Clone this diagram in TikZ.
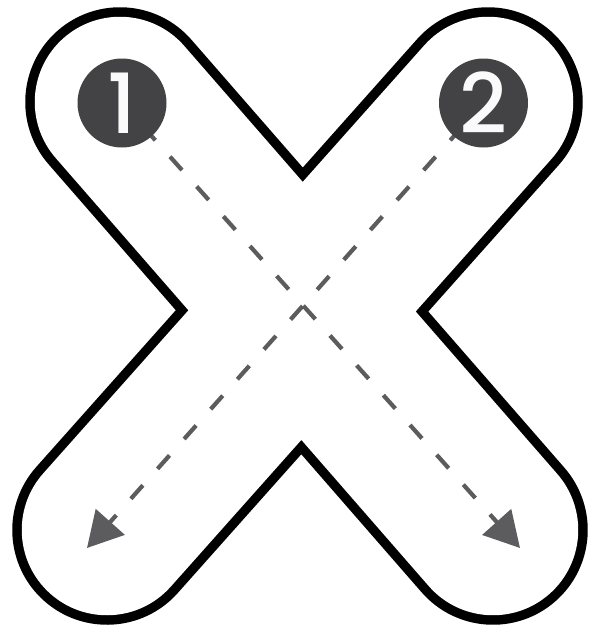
\documentclass[tikz,border=0pt]{standalone}
\usepackage{fontspec}
\IfFontExistsTF{Poppins Medium}{\newfontfamily\numfont{Poppins Medium}}{%
  \newfontfamily\numfont{Poppins}[FakeBold=1]}
\usetikzlibrary{arrows.meta,backgrounds}
\definecolor{discgray}{RGB}{67,67,69}
\definecolor{pathgray}{RGB}{92,92,94}
\begin{document}
\begin{tikzpicture}[x=1pt,y=-1pt,
  numdisc/.style={circle, fill=discgray, minimum size=89pt, inner sep=0pt, text={rgb,255:red,250;green,250;blue,250},
    font=\numfont\fontsize{83}{83}\selectfont},
  guide/.style={draw=pathgray, line width=4.2pt, dash pattern=on 18pt off 22pt, dash phase=8pt,
    -{Triangle[length=35pt,width=38pt]}},
  outlineblack/.style={line width=189.5pt, line cap=round, draw=black},
  outlinewhite/.style={line width=170.5pt, line cap=round, draw=white}]
\useasboundingbox (0,0) rectangle (590,627);
\coordinate (TL) at (120,102);
\coordinate (TR) at (488,102);
\coordinate (BL) at (107,530);
\coordinate (BR) at (493,530);
\node[numdisc] (c1) at (122,103) {1};
\node[numdisc] (c2) at (483.5,103) {2};
\coordinate (t1) at (520,548);
\coordinate (t2) at (87,548);
\begin{scope}[on background layer]
  \fill[white] (0,0) rectangle (590,627);
  \draw[outlineblack] (TL) -- (BR) (TR) -- (BL);
  \draw[outlinewhite] (TL) -- (BR) (TR) -- (BL);
  \draw[guide] (c1.center) -- (t1);
  \draw[guide] (c2.center) -- (t2);
\end{scope}
\end{tikzpicture}
\end{document}
